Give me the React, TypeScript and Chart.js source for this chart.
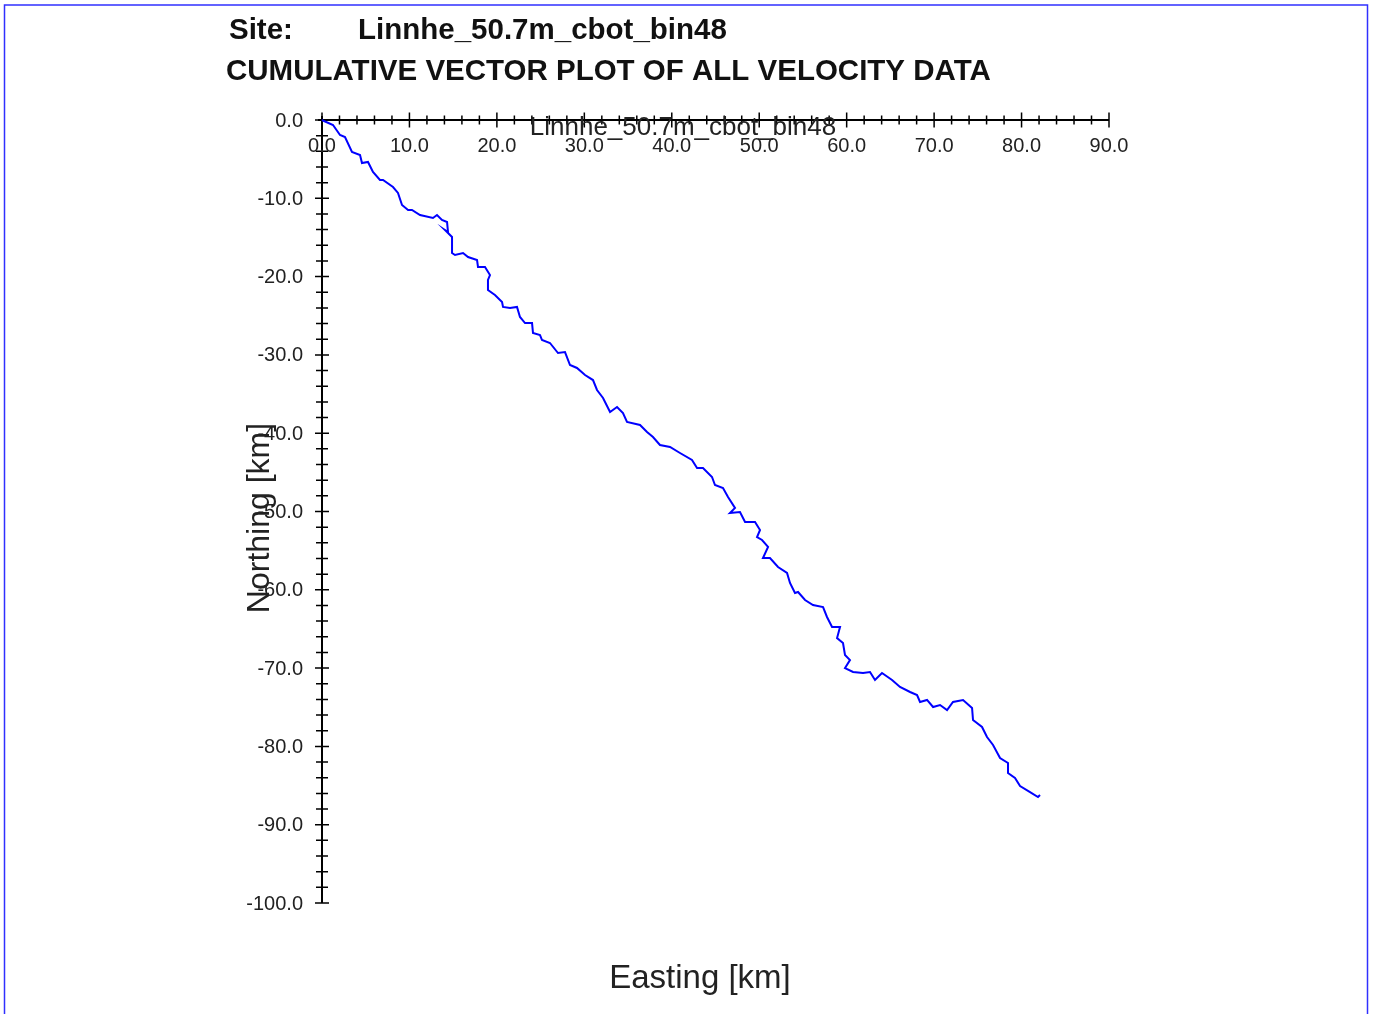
import React, { useEffect, useRef } from "react";
import { Chart, registerables } from "chart.js";

Chart.register(...registerables);

const siteLabel = "Site:";
const siteName = "Linnhe_50.7m_cbot_bin48";
const mainTitle = "CUMULATIVE VECTOR PLOT OF ALL VELOCITY DATA";
const xAxisTitle = "Easting [km]";
const yAxisTitle = "Northing [km]";

const xMajorTicks = [0, 10, 20, 30, 40, 50, 60, 70, 80, 90];
const xTickLabels = ["0.0", "10.0", "20.0", "30.0", "40.0", "50.0", "60.0", "70.0", "80.0", "90.0"];
const yMajorTicks = [0, -10, -20, -30, -40, -50, -60, -70, -80, -90, -100];
const yTickLabels = ["0.0", "-10.0", "-20.0", "-30.0", "-40.0", "-50.0", "-60.0", "-70.0", "-80.0", "-90.0", "-100.0"];
const minorStep = 2;

const eastingKm = [
  0, 0.23, 1.26, 2.06, 2.63, 3.43, 4.35, 4.57, 5.26, 5.83, 6.63, 6.98, 8.12, 8.69, 9.15, 9.84, 10.29, 11.21,
  12.69, 13.15, 13.72, 14.3, 14.41, 14.07, 14.87, 14.87, 15.21, 16.13, 16.7, 17.73, 17.84, 18.64, 19.21, 18.98,
  18.98, 19.78, 20.59, 20.7, 21.5, 22.3, 22.64, 23.22, 24.02, 24.13, 24.93, 25.16, 26.07, 26.99, 27.79, 28.36,
  29.16, 30.08, 30.99, 31.45, 32.14, 32.94, 33.74, 34.42, 34.88, 36.37, 37.17, 37.85, 38.65, 39.8, 40.94, 42.31,
  42.89, 43.57, 44.6, 44.94, 45.86, 46.43, 47.23, 46.66, 47.8, 48.38, 49.52, 50.09, 49.75, 50.32, 51.01, 50.43,
  51.23, 52.15, 53.18, 53.52, 54.09, 54.44, 55.24, 56.15, 57.3, 57.75, 58.33, 59.24, 58.9, 59.58, 59.81, 60.38,
  59.81, 60.73, 61.87, 62.67, 63.24, 64.04, 65.19, 66.1, 67.25, 68.05, 68.39, 69.19, 69.88, 70.68, 71.48, 72.16,
  73.31, 74.34, 74.45, 75.48, 76.05, 76.74, 77.54, 78.45, 78.45, 79.25, 79.83, 80.97, 81.88, 82.11,
];
const northingKm = [
  0, -0.13, -0.64, -1.92, -2.17, -4.09, -4.47, -5.49, -5.36, -6.64, -7.66, -7.66, -8.56, -9.32, -10.86, -11.49,
  -11.49, -12.13, -12.52, -12.13, -12.77, -13.03, -14.3, -14.05, -14.94, -16.99, -17.24, -16.99, -17.5, -17.88,
  -18.77, -18.77, -19.8, -20.43, -21.71, -22.35, -23.24, -23.88, -24.01, -23.88, -25.16, -25.93, -25.93, -27.2,
  -27.46, -28.1, -28.48, -29.76, -29.64, -31.29, -31.67, -32.57, -33.21, -34.48, -35.5, -37.29, -36.65, -37.42,
  -38.57, -38.95, -39.85, -40.49, -41.51, -41.76, -42.53, -43.42, -44.44, -44.44, -45.59, -46.62, -47.0, -48.15,
  -49.55, -50.19, -50.06, -51.34, -51.34, -52.36, -53.26, -53.64, -54.53, -55.94, -55.94, -57.09, -57.85, -59.13,
  -60.41, -60.28, -61.3, -61.94, -62.2, -63.47, -64.75, -64.75, -66.16, -66.79, -68.33, -68.97, -69.99, -70.5,
  -70.63, -70.5, -71.52, -70.63, -71.52, -72.41, -73.05, -73.44, -74.33, -74.07, -74.97, -74.71, -75.35, -74.33,
  -74.07, -75.1, -76.63, -77.52, -78.8, -79.82, -81.48, -82.12, -83.4, -84.04, -85.06, -85.83, -86.46, -86.21,
];

const FONT = '"Liberation Sans", Arial, sans-serif';

const decorPlugin = {
  id: "decor",
  beforeDatasetsDraw(chart: any) {
    const ctx = chart.ctx as CanvasRenderingContext2D;
    const xs = chart.scales.x;
    const ys = chart.scales.y;
    const x0 = xs.getPixelForValue(0);
    const y0 = ys.getPixelForValue(0);
    const xEnd = xs.getPixelForValue(xMajorTicks[xMajorTicks.length - 1]);
    const yEnd = ys.getPixelForValue(yMajorTicks[yMajorTicks.length - 1]);
    ctx.save();
    // border
    ctx.strokeStyle = "#3030ff";
    ctx.lineWidth = 1.5;
    ctx.strokeRect(4.5, 5, 1363, 1020);
    // axis lines
    ctx.strokeStyle = "#000";
    ctx.lineWidth = 2;
    ctx.beginPath();
    ctx.moveTo(x0 - 4, y0);
    ctx.lineTo(xEnd, y0);
    ctx.moveTo(x0, y0 - 4);
    ctx.lineTo(x0, yEnd);
    ctx.stroke();
    // ticks
    ctx.lineWidth = 1.5;
    ctx.beginPath();
    for (let v = xMajorTicks[0]; v <= xMajorTicks[xMajorTicks.length - 1] + 1e-9; v += minorStep) {
      const p = xs.getPixelForValue(v);
      const h = Math.abs(v % 10) < 1e-6 ? 7.5 : 4.5;
      ctx.moveTo(p, y0 - h);
      ctx.lineTo(p, y0 + h);
    }
    for (let v = yMajorTicks[0]; v >= yMajorTicks[yMajorTicks.length - 1] - 1e-9; v -= minorStep) {
      const p = ys.getPixelForValue(v);
      const h = Math.abs(v % 10) < 1e-6 ? 7 : 6;
      ctx.moveTo(x0 - h, p);
      ctx.lineTo(x0 + h, p);
    }
    ctx.stroke();
    // tick labels
    ctx.fillStyle = "#222";
    ctx.font = `20px ${FONT}`;
    ctx.textBaseline = "middle";
    ctx.textAlign = "center";
    xMajorTicks.forEach((v, i) => {
      ctx.fillText(xTickLabels[i], xs.getPixelForValue(v), y0 + 26);
    });
    ctx.textAlign = "right";
    yMajorTicks.forEach((v, i) => {
      ctx.fillText(yTickLabels[i], x0 - 19, ys.getPixelForValue(v) + 1);
    });
    ctx.restore();
  },
  afterDraw(chart: any) {
    const ctx = chart.ctx as CanvasRenderingContext2D;
    ctx.save();
    ctx.fillStyle = "#111";
    ctx.font = `bold 29.5px ${FONT}`;
    ctx.textAlign = "left";
    ctx.textBaseline = "alphabetic";
    ctx.fillText(siteLabel, 229, 39);
    ctx.fillText(siteName, 358, 39);
    ctx.fillText(mainTitle, 226, 80);
    ctx.fillStyle = "#222";
    ctx.font = `26px ${FONT}`;
    ctx.textAlign = "center";
    ctx.fillText(siteName, 683, 135);
    ctx.font = `33px ${FONT}`;
    ctx.fillText(xAxisTitle, 700, 988);
    ctx.font = `32px ${FONT}`;
    ctx.translate(269, 518);
    ctx.rotate(-Math.PI / 2);
    ctx.fillText(yAxisTitle, 0, 0);
    ctx.restore();
  },
};

export default function App() {
  const ref = useRef<HTMLCanvasElement | null>(null);
  useEffect(() => {
    if (!ref.current) return;
    const points = eastingKm.map((x, i) => ({ x, y: northingKm[i] }));
    const chart = new Chart(ref.current, {
      type: "scatter",
      data: {
        datasets: [
          {
            data: points,
            showLine: true,
            borderColor: "#0000ff",
            backgroundColor: "#0000ff",
            borderWidth: 2,
            pointRadius: 0,
            tension: 0,
            clip: false as any,
          },
        ],
      },
      options: {
        responsive: false,
        animation: false,
        devicePixelRatio: 1,
        layout: { padding: { left: 322, right: 265, top: 120, bottom: 111 } },
        plugins: { legend: { display: false }, tooltip: { enabled: false }, title: { display: false } },
        scales: {
          x: { type: "linear", min: 0, max: 90, display: false },
          y: { type: "linear", min: -100, max: 0, display: false },
        },
      },
      plugins: [decorPlugin],
    });
    return () => chart.destroy();
  }, []);
  return (
    <div style={{ position: "absolute", left: 0, top: 0, width: 1374, height: 1014, background: "#fff" }}>
      <canvas ref={ref} width={1374} height={1014} style={{ display: "block" }} />
    </div>
  );
}
